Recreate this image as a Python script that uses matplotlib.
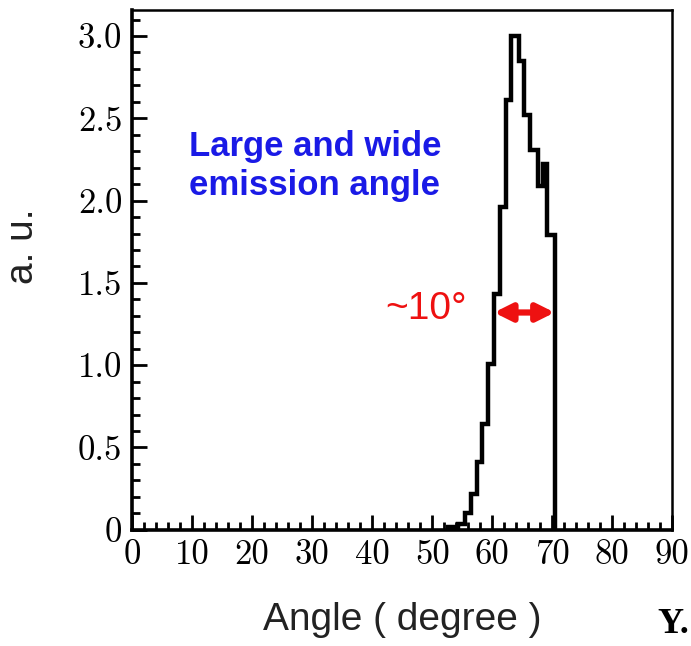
import matplotlib
matplotlib.use("Agg")
import matplotlib.pyplot as plt
from matplotlib.ticker import MultipleLocator

# histogram (bin edges in degree, heights in a.u.)
bin_edges = [52.6, 54.3, 55.4, 56.4, 57.4, 58.3, 59.3, 60.3, 61.3, 62.3,
             63.2, 64.5, 65.3, 66.3, 67.7, 68.5, 69.1, 70.4]
heights = [0.015, 0.036, 0.10, 0.22, 0.41, 0.64, 1.01, 1.43, 1.96, 2.61,
           3.0, 2.85, 2.52, 2.31, 2.09, 2.22, 1.79]

x_ticks = [0, 10, 20, 30, 40, 50, 60, 70, 80, 90]
y_ticks = [0, 0.5, 1.0, 1.5, 2.0, 2.5, 3.0]
y_ticklabels = ["0", "0.5", "1.0", "1.5", "2.0", "2.5", "3.0"]

# FWHM-like arrow span
width_start, width_end, width_level = 60.3, 70.4, 1.32

fig = plt.figure(figsize=(6.91, 6.46), dpi=100)
ax = fig.add_axes([0.191, 0.18, 0.782, 0.805])

ax.stairs(heights, bin_edges, baseline=0, color="black", linewidth=3.2)

ax.set_xlim(0, 90)
ax.set_ylim(0, 3.16)
ax.set_xticks(x_ticks)
ax.set_xticklabels([str(t) for t in x_ticks])
ax.set_yticks(y_ticks)
ax.set_yticklabels(y_ticklabels)
ax.xaxis.set_minor_locator(MultipleLocator(2))
ax.yaxis.set_minor_locator(MultipleLocator(0.1))

ax.tick_params(which="both", direction="in", top=False, right=False, width=2)
ax.tick_params(which="major", length=11, pad=7)
ax.tick_params(which="minor", length=5.5)
for lab in ax.get_xticklabels() + ax.get_yticklabels():
    lab.set_fontfamily("cmr10")
    lab.set_fontsize(25)
for sp in ax.spines.values():
    sp.set_linewidth(1.8)
ax.spines["left"].set_linewidth(2.6)
ax.spines["bottom"].set_linewidth(2.6)

ax.set_xlabel("Angle ( degree )", fontsize=28, family="Liberation Sans",
              color="#222222", labelpad=22)
ax.set_ylabel("a. u.", fontsize=28, family="Liberation Sans",
              color="#222222")
ax.yaxis.set_label_coords(-0.168, 0.545)

ax.text(9.5, 2.43, "Large and wide\nemission angle", color="#1a1ae6",
        fontsize=25, fontweight="bold", family="Liberation Sans",
        va="top", ha="left", linespacing=1.25)

ax.annotate("", xy=(width_end, width_level), xytext=(width_start, width_level),
            arrowprops=dict(arrowstyle="<|-|>", color="#ee1111", lw=4.5,
                            mutation_scale=26, shrinkA=0, shrinkB=0))
ax.text(55.7, width_level + 0.02, "~10°", color="#ee1111", fontsize=28,
        family="Liberation Sans", ha="right", va="center")

fig.text(0.997, 0.008, "Y.", fontsize=26, fontweight="bold",
         family="Liberation Serif", ha="right", va="bottom")

fig.savefig("out.png", dpi=100)
